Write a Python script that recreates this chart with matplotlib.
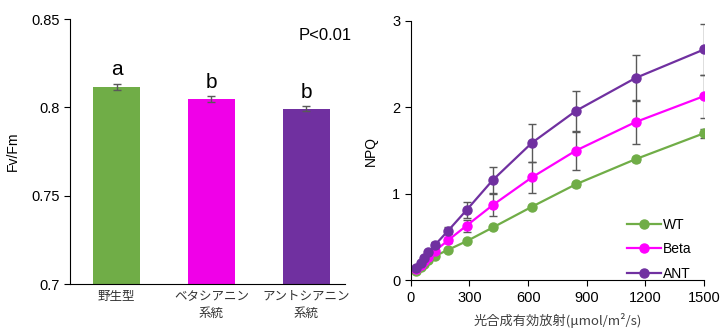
import numpy as np
import matplotlib
matplotlib.use("Agg")
import matplotlib.pyplot as plt

plt.rcParams['font.family'] = ['Arial', 'Liberation Sans', 'Noto Sans CJK JP', 'DejaVu Sans']
jp = ['Noto Sans CJK JP', 'DejaVu Sans']

# 左: Fv/Fm
lines_jp = ['野生型', 'ベタシアニン\n系統', 'アントシアニン\n系統']
fvfm = [0.8117, 0.8046, 0.7993]
fvfm_err = [0.0017, 0.0016, 0.0013]
letters = ['a', 'b', 'b']
bar_colors = ['#70AD47', '#F000E8', '#7030A0']

# 右: NPQ
par = [25, 50, 70, 90, 125, 190, 285, 420, 620, 845, 1150, 1500]
npq_wt = [0.10, 0.15, 0.19, 0.23, 0.28, 0.35, 0.45, 0.61, 0.85, 1.11, 1.40, 1.70]
npq_beta = [0.13, 0.18, 0.22, 0.27, 0.34, 0.46, 0.63, 0.87, 1.19, 1.50, 1.83, 2.13]
npq_ant = [0.14, 0.20, 0.26, 0.32, 0.41, 0.57, 0.81, 1.16, 1.59, 1.96, 2.34, 2.67]
err_wt = [0.01, 0.01, 0.01, 0.01, 0.01, 0.01, 0.02, 0.02, 0.02, 0.03, 0.03, 0.05]
err_beta = [0.01, 0.01, 0.01, 0.02, 0.02, 0.03, 0.07, 0.13, 0.18, 0.22, 0.25, 0.25]
err_ant = [0.01, 0.01, 0.02, 0.02, 0.03, 0.04, 0.09, 0.15, 0.22, 0.23, 0.27, 0.29]
series = [('WT', npq_wt, err_wt, '#70AD47'),
          ('Beta', npq_beta, err_beta, '#FF00FF'),
          ('ANT', npq_ant, err_ant, '#7030A0')]

fig = plt.figure(figsize=(7.22, 3.28), dpi=100)

ax1 = fig.add_axes([0.097, 0.134, 0.381, 0.808])
x = np.arange(len(fvfm))
ax1.bar(x, fvfm, width=0.5, color=bar_colors, zorder=2)
ax1.errorbar(x, fvfm, yerr=fvfm_err, fmt='none', ecolor='#595959',
             elinewidth=1, capsize=3, capthick=1, zorder=3)
for xi, v, e, t in zip(x, fvfm, fvfm_err, letters):
    ax1.text(xi, v + e + 0.0025, t, ha='center', va='bottom', fontsize=15)
ax1.text(2.48, 0.845, 'P<0.01', ha='right', va='top', fontsize=12, clip_on=False)
ax1.set_ylim(0.7, 0.85)
ax1.set_xlim(-0.49, 2.41)
ax1.set_yticks([0.7, 0.75, 0.8, 0.85])
ax1.set_yticklabels(['0.7', '0.75', '0.8', '0.85'], fontsize=10.5)
ax1.set_xticks(x)
ax1.set_xticklabels(lines_jp, fontsize=9, family=jp, linespacing=1.4, color='#333333')
ax1.tick_params(axis='x', length=0, pad=4)
ax1.tick_params(axis='y', direction='out', length=4)
ax1.set_ylabel('Fv/Fm', fontsize=10, labelpad=8)
for s in ['top', 'right']:
    ax1.spines[s].set_visible(False)

ax2 = fig.add_axes([0.569, 0.146, 0.406, 0.790])
for name, y, e, c in series:
    ax2.errorbar(par, y, yerr=e, fmt='none', ecolor='#595959',
                 elinewidth=1, capsize=3, capthick=1, zorder=1)
for name, y, e, c in series:
    ax2.plot(par, y, '-o', color=c, lw=1.6, ms=6.5, label=name, zorder=2)
ax2.set_xlim(0, 1500)
ax2.set_ylim(0, 3)
ax2.set_xticks([0, 300, 600, 900, 1200, 1500])
ax2.set_yticks([0, 1, 2, 3])
ax2.tick_params(labelsize=10.5, direction='out', length=4)
ax2.set_ylabel('NPQ', fontsize=10, labelpad=10)
ax2.set_xlabel('光合成有効放射(μmol/m²/s)', fontsize=9.5, family=jp, color='#404040', labelpad=6)
for s in ['top', 'right']:
    ax2.spines[s].set_visible(False)
ax2.legend(loc='lower right', frameon=False, fontsize=10, handlelength=2.4,
           handletextpad=0.15, labelspacing=0.75, bbox_to_anchor=(1.0, -0.05))

fig.savefig('out.png', dpi=100)
